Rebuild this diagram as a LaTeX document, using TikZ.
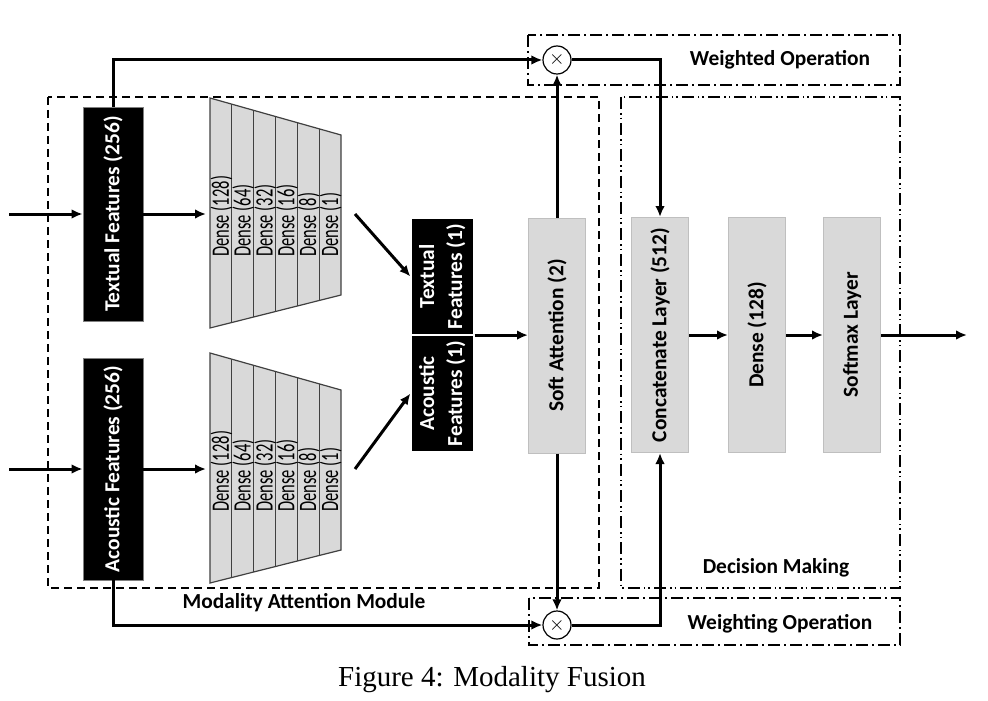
\documentclass[tikz,border=0pt]{standalone}
\usepackage{fontspec}
\setmainfont{Carlito}
\newfontfamily\capfont{Liberation Serif}
\usetikzlibrary{arrows.meta,positioning}

\begin{document}
\begin{tikzpicture}[
	x = 0.5pt, y = -0.5pt, % one unit is one pixel of the sketch
	> = {Latex[length=5.5pt,width=4.8pt]}, % arrow head style
	line width = 1.5pt,
	feat/.style={rectangle, fill=black, draw=gray, line width=0.4pt, text=white, inner sep=0pt, minimum width=30pt, font=\fontsize{10.7}{13}\selectfont\bfseries},
	small/.style={feat, draw=white, line width=0.6pt, minimum width=31.5pt, minimum height=58pt, font=\fontsize{10.7}{14}\selectfont\bfseries},
	layer/.style={rectangle, fill=gray!30, draw=gray!50, line width=0.5pt, inner sep=0pt, minimum width=28.5pt, minimum height=117.5pt, font=\fontsize{10.7}{13}\selectfont\bfseries},
	mult/.style={circle, draw=black, line width=0.6pt, fill=white, inner sep=0pt, minimum size=14pt},
	dense/.style={rotate=90, anchor=west, inner sep=0pt, font=\fontsize{12.5}{13}\selectfont},
	grp/.style={font=\fontsize{10.7}{13}\selectfont\bfseries},
	trap/.style={fill=gray!30, draw=black!75, line width=0.6pt},
	modbox/.style={line width=0.8pt, dash pattern=on 4pt off 2.5pt},
	wbox/.style={line width=0.8pt, dash pattern=on 6pt off 2pt on 1pt off 2pt},
	decbox/.style={line width=0.8pt, dash pattern=on 6pt off 2pt on 0.8pt off 1.5pt on 0.8pt off 2pt},
	]
	\useasboundingbox (0,0) rectangle (988,700);

	% Group frames
	\draw[modbox] (48,97) rectangle (599,588);
	\draw[decbox] (621,97) rectangle (900,588);
	\draw[wbox] (528,35) rectangle (900,85);
	\draw[wbox] (529,598) rectangle (900,645);
	\node[grp] (lmod) at (304,603) {Modality Attention Module};
	\node[grp] (ldec) at (776,568) {Decision Making};
	\node[grp] (lwed) at (780,60) {Weighted Operation};
	\node[grp] (lwing) at (780,624) {Weighting Operation};

	% Dense stacks, one per modality
	\foreach \dy/\nm in {0/t, 255/a} {
		\draw[trap] (210,98+\dy) -- (341,135+\dy) -- (341,295+\dy) -- (210,328+\dy) -- cycle;
		\foreach \i in {1,...,5}
			\draw[black!75, line width=0.6pt] ({210+21.83*\i},{98+\dy+6.17*\i}) -- ({210+21.83*\i},{328+\dy-5.5*\i});
		\foreach \n [count=\i from 0] in {128,64,32,16,8,1}
			\node[dense] (\nm d\n) at ({221.5+21.83*\i},258+\dy) {\scalebox{0.66}[1]{Dense (\n)}};
		\coordinate (\nm in) at (9,214+\dy);
		\coordinate (\nm stk) at (206,214+\dy);
		\coordinate (\nm out) at (355,214+\dy);
	}

	% Feature nodes
	\node[feat, minimum height=107pt] (T256) at (113,214) {\rotatebox{90}{Textual Features (256)}};
	\node[feat, minimum height=111pt] (A256) at (113,469) {\rotatebox{90}{Acoustic Features (256)}};
	\node[small] (T1) at (442.5,276.5) {\rotatebox{90}{\begin{tabular}{@{}c@{}}Textual\\Features (1)\end{tabular}}};
	\node[small] (A1) at (442.5,393.5) {\rotatebox{90}{\begin{tabular}{@{}c@{}}Acoustic\\Features (1)\end{tabular}}};

	% Attention and decision layers
	\node[layer] (SA) at (557,335.5) {\rotatebox{90}{Soft Attention (2)}};
	\node[layer] (CL) at (660,335) {\rotatebox{90}{Concatenate Layer (512)}};
	\node[layer, right=19.5pt of CL] (D128) {\rotatebox{90}{Dense (128)}};
	\node[layer, right=18.5pt of D128] (SM) {\rotatebox{90}{Softmax Layer}};
	\coordinate (out) at (967,335);

	% Weighting
	\node[mult] (M1) at (557,60) {$\times$};
	\node[mult] (M2) at (557,625) {$\times$};

	% Paths connecting nodes
	\draw[->] (tin) -- (T256);
	\draw[->] (ain) -- (A256);
	\draw[->] (T256) -- (tstk);
	\draw[->] (A256) -- (astk);
	\draw[->] (tout) -- (T1.west);
	\draw[->] (aout) -- (A1.west);
	\draw[->] (T1.south east) -- (T1.south east -| SA.west);
	\draw[->] (SA) -- (M1);
	\draw[->] (SA) -- (M2);
	\draw[->] (T256.north) |- (M1);
	\draw[->] (A256.south) |- (M2);
	\draw[->] (M1) -| (CL.north);
	\draw[->] (M2) -| (CL.south);
	\draw[->] (CL) -- (D128);
	\draw[->] (D128) -- (SM);
	\draw[->] (SM) -- (out);

	% Caption
	\node[font=\capfont\fontsize{14.5}{16}\selectfont] (cap) at (492,680) {Figure 4: Modality Fusion};
\end{tikzpicture}
\end{document}
